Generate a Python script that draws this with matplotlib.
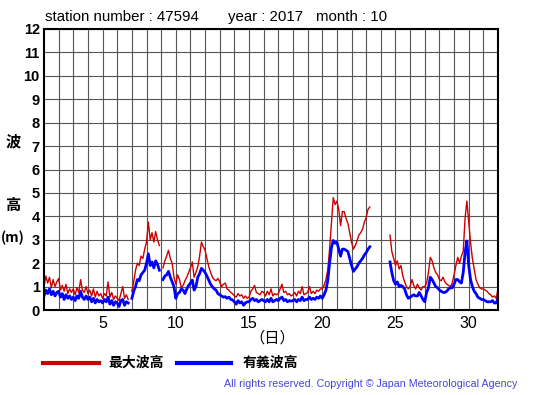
import numpy as np
import matplotlib
matplotlib.use("Agg")
import matplotlib.pyplot as plt

plt.rcParams['font.family'] = ['Liberation Sans', 'Noto Sans CJK JP', 'DejaVu Sans']

# 3-hourly values, 8 per day starting at day 1 00h, last point = day 32 00h
# None = missing data
max_wave = [
    1.0, 1.45, 1.15, 1.4, 0.95, 1.3, 1.0, 1.2,      # 1
    1.35, 0.85, 1.05, 0.8, 1.1, 0.7, 0.9, 0.75,     # 2
    0.9, 0.65, 0.95, 0.75, 1.3, 0.85, 0.75, 1.0,    # 3
    0.7, 0.85, 0.6, 0.9, 0.55, 0.8, 0.6, 0.7,       # 4
    0.5, 0.7, 0.6, 1.2, 0.55, 0.75, 0.45, 0.6,      # 5
    0.5, 0.4, 0.7, 1.0, 0.5, 0.65, 0.45, None,      # 6
    0.8, 1.2, 1.7, 2.0, 1.9, 2.3, 2.2, 2.6,         # 7
    2.9, 3.75, 3.0, 3.3, 2.9, 3.35, 3.0, 2.75,      # 8
    None, 1.8, 2.1, 2.3, 2.55, 2.2, 2.0, 1.4,       # 9
    1.1, 1.5, 1.3, 0.95, 1.05, 1.25, 1.4, 1.6,      # 10
    1.8, 2.05, 1.4, 1.6, 1.85, 2.3, 2.9, 2.7,       # 11
    2.55, 2.2, 1.85, 1.6, 1.4, 1.3, 1.25, 1.35,     # 12
    1.2, 1.0, 1.1, 1.15, 0.9, 0.85, 0.75, 0.7,      # 13
    0.6, 0.55, 0.7, 0.6, 0.65, 0.5, 0.6, 0.5,       # 14
    0.55, 0.8, 0.9, 1.05, 0.75, 0.7, 0.65, 0.8,     # 15
    0.75, 0.6, 0.8, 0.65, 0.9, 0.6, 0.7, 0.65,      # 16
    0.7, 0.9, 1.1, 0.75, 0.8, 0.65, 0.7, 0.6,       # 17
    0.65, 0.75, 0.6, 0.8, 0.7, 1.0, 0.65, 0.7,      # 18
    0.75, 1.0, 0.7, 0.8, 0.7, 0.85, 0.8, 0.9,       # 19
    0.9, 1.05, 1.3, 1.7, 2.6, 3.7, 4.8, 4.5,        # 20
    4.65, 4.3, 3.6, 4.2, 4.2, 3.9, 3.7, 3.3,        # 21
    2.9, 2.6, 2.75, 2.95, 3.2, 3.3, 3.45, 3.75,     # 22
    3.95, 4.3, 4.4, None, None, None, None, None,   # 23
    None, None, None, None, None, 3.2, 2.5, 2.2,    # 24
    1.9, 2.1, 1.75, 1.9, 1.45, 1.2, 1.0, 0.9,       # 25
    1.0, 1.3, 1.05, 0.9, 1.1, 0.95, 0.85, 1.0,      # 26
    1.0, 1.15, 1.6, 2.25, 2.1, 1.8, 1.6, 1.5,       # 27
    1.3, 1.25, 1.4, 1.2, 1.1, 1.05, 1.0, 1.15,      # 28
    1.5, 1.9, 2.25, 2.0, 2.3, 2.5, 3.9, 4.65,       # 29
    3.8, 2.9, 2.2, 1.75, 1.3, 1.1, 0.95, 0.9,       # 30
    0.9, 0.85, 0.8, 0.7, 0.65, 0.55, 0.6, 0.5,      # 31
    0.9,
]

sig_wave = [
    0.6, 0.85, 0.7, 0.9, 0.65, 0.8, 0.6, 0.75,      # 1
    0.8, 0.55, 0.7, 0.45, 0.65, 0.5, 0.6, 0.45,     # 2
    0.55, 0.4, 0.6, 0.5, 0.8, 0.55, 0.45, 0.6,      # 3
    0.45, 0.55, 0.35, 0.5, 0.3, 0.45, 0.35, 0.4,    # 4
    0.3, 0.45, 0.35, 0.55, 0.25, 0.4, 0.2, 0.35,    # 5
    0.3, 0.15, 0.4, 0.45, 0.2, 0.35, 0.3, None,     # 6
    0.5, 0.8, 1.0, 1.3, 1.25, 1.5, 1.6, 1.7,        # 7
    2.0, 2.4, 1.9, 2.05, 1.8, 2.1, 1.95, 1.7,       # 8
    None, 1.3, 1.45, 1.5, 1.65, 1.4, 1.2, 1.0,      # 9
    0.5, 0.7, 0.75, 0.9, 0.85, 0.7, 0.9, 1.05,      # 10
    1.15, 1.28, 0.85, 1.0, 1.4, 1.55, 1.78, 1.7,    # 11
    1.6, 1.45, 1.28, 1.1, 0.99, 0.9, 0.85, 0.7,     # 12
    0.65, 0.6, 0.55, 0.57, 0.5, 0.55, 0.45, 0.43,   # 13
    0.35, 0.25, 0.4, 0.3, 0.35, 0.2, 0.3, 0.35,     # 14
    0.35, 0.45, 0.5, 0.4, 0.45, 0.35, 0.4, 0.45,    # 15
    0.4, 0.35, 0.45, 0.35, 0.5, 0.35, 0.4, 0.45,    # 16
    0.4, 0.5, 0.55, 0.4, 0.45, 0.35, 0.4, 0.38,     # 17
    0.4, 0.45, 0.35, 0.45, 0.4, 0.55, 0.4, 0.45,    # 18
    0.45, 0.55, 0.45, 0.5, 0.45, 0.55, 0.5, 0.6,    # 19
    0.5, 0.65, 0.85, 1.25, 2.0, 2.65, 2.97, 2.85,   # 20
    2.9, 2.6, 2.3, 2.6, 2.6, 2.55, 2.5, 2.2,        # 21
    1.9, 1.65, 1.75, 1.85, 2.0, 2.1, 2.2, 2.35,     # 22
    2.45, 2.6, 2.7, None, None, None, None, None,   # 23
    None, None, None, None, None, 2.05, 1.6, 1.25,  # 24
    1.1, 1.2, 1.0, 1.05, 1.0, 0.9, 0.65, 0.5,       # 25
    0.55, 0.6, 0.65, 0.6, 0.6, 0.75, 0.6, 0.45,     # 26
    0.35, 0.75, 0.95, 1.4, 1.3, 1.15, 1.0, 0.95,    # 27
    0.85, 0.8, 0.75, 0.75, 0.8, 0.9, 0.95, 0.95,    # 28
    1.1, 1.3, 1.3, 1.2, 1.15, 1.6, 2.45, 2.95,      # 29
    1.9, 1.3, 1.0, 0.8, 0.7, 0.55, 0.5, 0.45,       # 30
    0.45, 0.4, 0.35, 0.35, 0.35, 0.4, 0.3, 0.3,     # 31
    0.5,
]

steps_per_day = 8
t = 1 + np.arange(len(max_wave)) / steps_per_day
red = np.array([np.nan if v is None else v for v in max_wave])
blue = np.array([np.nan if v is None else v for v in sig_wave])

fig = plt.figure(figsize=(5.55, 3.95), dpi=100)
ax = fig.add_axes([44/555, 85/395, 454/555, 281/395])

ax.plot(t, red, color='#cc0000', lw=1.0)
ax.plot(t, blue, color='#0000ff', lw=2.0)

ax.set_xlim(1, 32)
ax.set_ylim(0, 12)
ax.set_xticks([5, 10, 15, 20, 25, 30])
ax.set_xticks(np.arange(2, 32), minor=True)
ax.set_yticks(np.arange(0, 13))
ax.grid(which='both', color='#555555', lw=0.8)
ax.set_axisbelow(True)
ax.tick_params(which='both', length=0)
ax.tick_params(axis='x', labelsize=11.5, pad=4)
ax.tick_params(axis='y', labelsize=10.5, pad=3)
for lab in ax.get_yticklabels():
    lab.set_fontweight('bold')
for sp in ax.spines.values():
    sp.set_linewidth(1.5)
    sp.set_color('black')

cjk = ['Noto Sans CJK JP', 'DejaVu Sans']
fig.text(45/555, 1 - 17/395, 'station number : 47594', fontsize=10.8, va='center')
fig.text(228/555, 1 - 17/395, 'year : 2017', fontsize=10.8, va='center')
fig.text(316/555, 1 - 17/395, 'month : 10', fontsize=10.8, va='center')

fig.text(13/555, 1 - 141/395, '波', family=cjk, fontsize=11, weight='bold', ha='center', va='center')
fig.text(13/555, 1 - 205/395, '高', family=cjk, fontsize=11, weight='bold', ha='center', va='center')
fig.text(13/555, 1 - 238/395, '(m)', family=cjk, fontsize=10, weight='bold', ha='center', va='center')
fig.text(272/555, 1 - 338/395, '（日）', family=cjk, fontsize=11, ha='center', va='center')

# legend
fig.add_artist(plt.Line2D([43/555, 99/555], [1 - 363/395] * 2, color='#cc0000', lw=3))
fig.text(108/555, 1 - 363/395, '最大波高', family=cjk, fontsize=10, weight='bold', va='center')
fig.add_artist(plt.Line2D([177/555, 231/555], [1 - 363/395] * 2, color='#0000ff', lw=3))
fig.text(243/555, 1 - 363/395, '有義波高', family=cjk, fontsize=10, weight='bold', va='center')

fig.text(517/555, 1 - 384/395, 'All rights reserved. Copyright © Japan Meteorological Agency',
         fontsize=7.7, color='#4444dd', ha='right', va='center')

fig.savefig('out.png', dpi=100)
